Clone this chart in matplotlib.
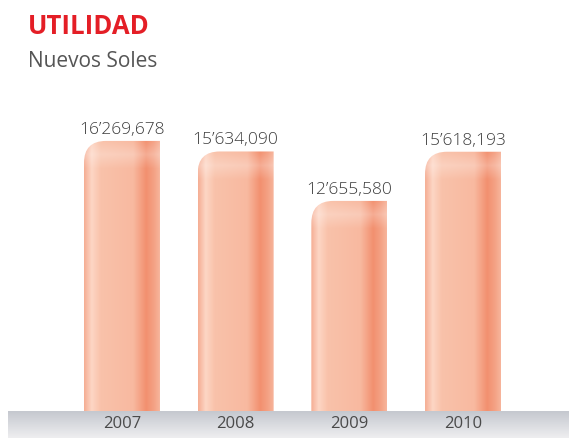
import numpy as np
import matplotlib.pyplot as plt
from matplotlib.path import Path
from matplotlib.patches import PathPatch
from matplotlib.colors import to_rgb

# datos
years = ['2007', '2008', '2009', '2010']
utilidad = [16269678, 15634090, 12655580, 15618193]
value_labels = ['16’269,678', '15’634,090', '12’655,580', '15’618,193']

W, H = 569, 439
fig = plt.figure(figsize=(W / 100, H / 100), dpi=100)
fig.patch.set_facecolor('white')

# franja gris inferior
band = fig.add_axes([8 / W, 0, (W - 8) / W, 27 / H])
grey = np.linspace(0, 1, 50)[:, None]
c_top, c_bot = np.array(to_rgb('#c5c8cf')), np.array(to_rgb('#eeeef0'))
band_img = c_top + (c_bot - c_top) * grey[..., None]
band.imshow(np.repeat(band_img, 2, axis=1), aspect='auto', extent=[0, 1, 0, 1])
band.axis('off')

# ejes principales
ax = fig.add_axes([8 / W, 27 / H, (W - 8) / W, 412 / H])
ax.patch.set_alpha(0)
px_x = 113.7               # pixeles por categoria
px_y = 16.6 / 1e6          # pixeles por sol
x = np.arange(len(years))
ax.set_xlim(-(122 - 8) / px_x, 3 + (569 - 463) / px_x)
ax.set_ylim(0, 412 / px_y)
for s in ax.spines.values():
    s.set_visible(False)
ax.set_yticks([])
ax.set_xticks(x, years)
ax.tick_params(axis='x', length=0, pad=3, labelsize=12, labelcolor='#4a4a4a')
for t in ax.get_xticklabels():
    t.set_fontfamily('Open Sans')

bars = ax.bar(x, utilidad, width=76 / px_x, color='none', edgecolor='none')

# degradado horizontal de cada barra
stops = [0.0, 0.10, 0.22, 0.65, 0.82, 0.92, 1.0]
cols = ['#f5ad93', '#fdd6c5', '#f9c2aa', '#f8b9a0', '#f2906f', '#f4a184', '#f7b59c']
cols = np.array([to_rgb(c) for c in cols])
fx = np.linspace(0, 1, 200)
row = np.stack([np.interp(fx, stops, cols[:, i]) for i in range(3)], axis=-1)

rx = 22 / px_x
ry = 22 / px_y
for b in bars:
    x0, w, h = b.get_x(), b.get_width(), b.get_height()
    x1 = x0 + w
    verts = [(x0, 0), (x1, 0), (x1, h), (x0 + rx, h), (x0, h), (x0, h - ry), (x0, 0)]
    codes = [Path.MOVETO, Path.LINETO, Path.LINETO, Path.LINETO,
             Path.CURVE3, Path.CURVE3, Path.CLOSEPOLY]
    clip = PathPatch(Path(verts, codes), facecolor='none', edgecolor='none')
    ax.add_patch(clip)
    # casquete superior un poco mas claro
    ny = 300
    fy = np.linspace(1, 0, ny)[:, None]          # 1 = arriba
    top_px = h * px_y
    d = (1 - fy) * top_px                         # distancia desde arriba en px
    light = np.clip(1 - np.abs(d - 14) / 14, 0, 1) * 0.25
    img = row[None, :, :] + (1 - row[None, :, :]) * light[..., None]
    im = ax.imshow(np.clip(img, 0, 1), extent=[x0, x1, 0, h], aspect='auto',
                   interpolation='bilinear', zorder=2)
    im.set_clip_path(clip)

for xi, v, lab in zip(x, utilidad, value_labels):
    ax.annotate(lab, (xi, v), xytext=(0, 3), textcoords='offset points',
                ha='center', va='bottom', fontsize=12.5, color='#3c3c3c',
                fontfamily='Open Sans', fontweight='light')

fig.text(28 / W, 1 - 34 / H, 'UTILIDAD', color='#e41e26', fontsize=18.5,
         fontweight='bold', fontfamily='Open Sans', va='baseline')
fig.text(28 / W, 1 - 67 / H, 'Nuevos Soles', color='#555555', fontsize=15,
         fontfamily='Open Sans', va='baseline')

fig.savefig('out.png', dpi=100)
